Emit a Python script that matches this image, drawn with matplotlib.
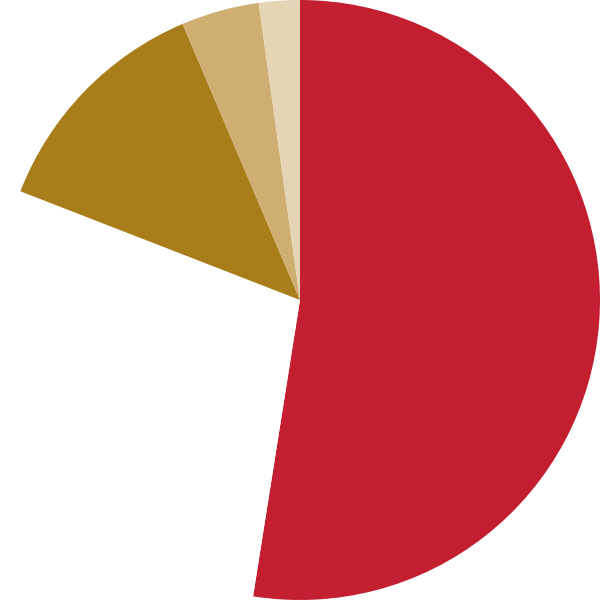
import matplotlib
matplotlib.use('Agg')
import matplotlib.pyplot as plt

# parts of the pie, clockwise from 12 o'clock
labels = ['A', 'B', 'C', 'D', 'E']
values = [52.5, 28.4, 12.7, 4.2, 2.2]
colors = ['#C41F30', '#FFFFFF', '#A87D1A', '#CFAE72', '#E5D5B5']

fig = plt.figure(figsize=(6, 6), dpi=100)
ax = fig.add_axes([0, 0, 1, 1])
ax.pie(values, colors=colors, startangle=90, counterclock=False,
       radius=1.0, wedgeprops=dict(linewidth=0))
ax.set_xlim(-1, 1)
ax.set_ylim(-1, 1)
ax.set_aspect('equal')
ax.axis('off')

fig.savefig('out.png', dpi=100, facecolor='white')
